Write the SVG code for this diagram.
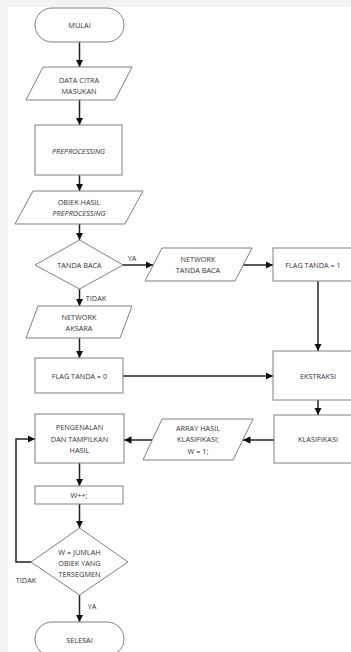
<svg xmlns="http://www.w3.org/2000/svg" width="351" height="652" viewBox="0 0 351 652">
<defs>
<marker id="ah" viewBox="0 0 10 10" refX="10" refY="5" markerWidth="5" markerHeight="5" orient="auto" markerUnits="strokeWidth">
<path d="M0,0 L10,5 L0,10 z" fill="#111"/>
</marker>
<style>
.s{fill:#fff;stroke:#808080;stroke-width:1}
.t{font-family:"Open Sans","Liberation Sans",sans-serif;font-size:7.3px;fill:#333;text-anchor:middle;dominant-baseline:central}
.i{font-style:italic}
.c{fill:none;stroke:#222;stroke-width:1.5;marker-end:url(#ah)}
</style>
</defs>
<rect width="351" height="652" fill="#f3f3f3"/>
<rect x="8" y="7" width="343" height="645" fill="#fff"/>

<g id="connectors">
<path class="c" d="M79.5,42 V67"/>
<path class="c" d="M79.5,100 V125"/>
<path class="c" d="M79.5,175 V191"/>
<path class="c" d="M79.5,224 V240"/>
<path class="c" d="M123,265 H153"/>
<path class="c" d="M243,265 H273"/>
<path class="c" d="M79.5,289 V306"/>
<path class="c" d="M79.5,338 V358"/>
<path class="c" d="M123,376 H273"/>
<path class="c" d="M318,281 V351"/>
<path class="c" d="M318,400 V415"/>
<path class="c" d="M274,440 H243"/>
<path class="c" d="M152,440 H124"/>
<path class="c" d="M79.5,463 V486"/>
<path class="c" d="M79.5,504 V528"/>
<path class="c" d="M31,562 H16 V439 H35"/>
<path class="c" d="M79.5,595 V622"/>
<text class="t" x="132" y="258">YA</text>
<text class="t" x="96" y="298">TIDAK</text>
<text class="t" x="26" y="580">TIDAK</text>
<text class="t" x="92" y="606">YA</text>
</g>

<g id="mulai">
<rect class="s" x="35" y="8" width="89" height="34" rx="17"/>
<text class="t" x="79.5" y="25">MULAI</text>
</g>
<g id="data-citra">
<polygon class="s" points="43,67 132,67 115,100 26,100"/>
<text class="t" x="79" y="80">DATA CITRA</text>
<text class="t" x="79" y="91">MASUKAN</text>
</g>
<g id="preprocessing">
<rect class="s" x="35" y="125" width="87" height="50"/>
<text class="t i" x="78.5" y="151">PREPROCESSING</text>
</g>
<g id="obiek-hasil">
<polygon class="s" points="33,191 143,191 125,224 15,224"/>
<text class="t" x="79" y="202">OBIEK HASIL</text>
<text class="t i" x="79" y="213">PREPROCESSING</text>
</g>
<g id="tanda-baca">
<polygon class="s" points="79.5,240 123,265 79.5,289 35,265"/>
<text class="t" x="79.5" y="265">TANDA BACA</text>
</g>
<g id="network-tanda-baca">
<polygon class="s" points="162,248 252,248 235,281 145,281"/>
<text class="t" x="198" y="259">NETWORK</text>
<text class="t" x="198" y="270">TANDA BACA</text>
</g>
<g id="flag-1">
<rect class="s" x="273" y="248" width="90" height="33"/>
<text class="t" x="313" y="265">FLAG TANDA = 1</text>
</g>
<g id="network-aksara">
<polygon class="s" points="38,306 132,306 120,338 26,338"/>
<text class="t" x="79" y="317">NETWORK</text>
<text class="t" x="79" y="328">AKSARA</text>
</g>
<g id="flag-0">
<rect class="s" x="35" y="358" width="88" height="35"/>
<text class="t" x="79.5" y="376">FLAG TANDA = 0</text>
</g>
<g id="ekstraksi">
<rect class="s" x="273" y="351" width="90" height="49"/>
<text class="t" x="318" y="376">EKSTRAKSI</text>
</g>
<g id="klasifikasi">
<rect class="s" x="274" y="415" width="89" height="48"/>
<text class="t" x="318" y="439">KLASIFIKASI</text>
</g>
<g id="array-hasil">
<polygon class="s" points="162,419 253,419 233,460 143,460"/>
<text class="t" x="198" y="428">ARRAY HASIL</text>
<text class="t" x="198" y="439">KLASIFIKASI;</text>
<text class="t" x="198" y="451">W = 1;</text>
</g>
<g id="pengenalan">
<rect class="s" x="35" y="414" width="89" height="49"/>
<text class="t" x="79.5" y="427">PENGENALAN</text>
<text class="t" x="79.5" y="439">DAN TAMPILKAN</text>
<text class="t" x="79.5" y="450">HASIL</text>
</g>
<g id="w-inc">
<rect class="s" x="35" y="486" width="88" height="18"/>
<text class="t" x="79" y="495">W++;</text>
</g>
<g id="w-jumlah">
<polygon class="s" points="79.5,528 128,562 79.5,595 31,562"/>
<text class="t" x="79.5" y="552">W = JUMLAH</text>
<text class="t" x="79.5" y="563">OBIEK YANG</text>
<text class="t" x="79.5" y="574">TERSEGMEN</text>
</g>
<g id="selesai">
<rect class="s" x="35" y="622" width="89" height="34" rx="17"/>
<text class="t" x="79.5" y="640">SELESAI</text>
</g>
</svg>
